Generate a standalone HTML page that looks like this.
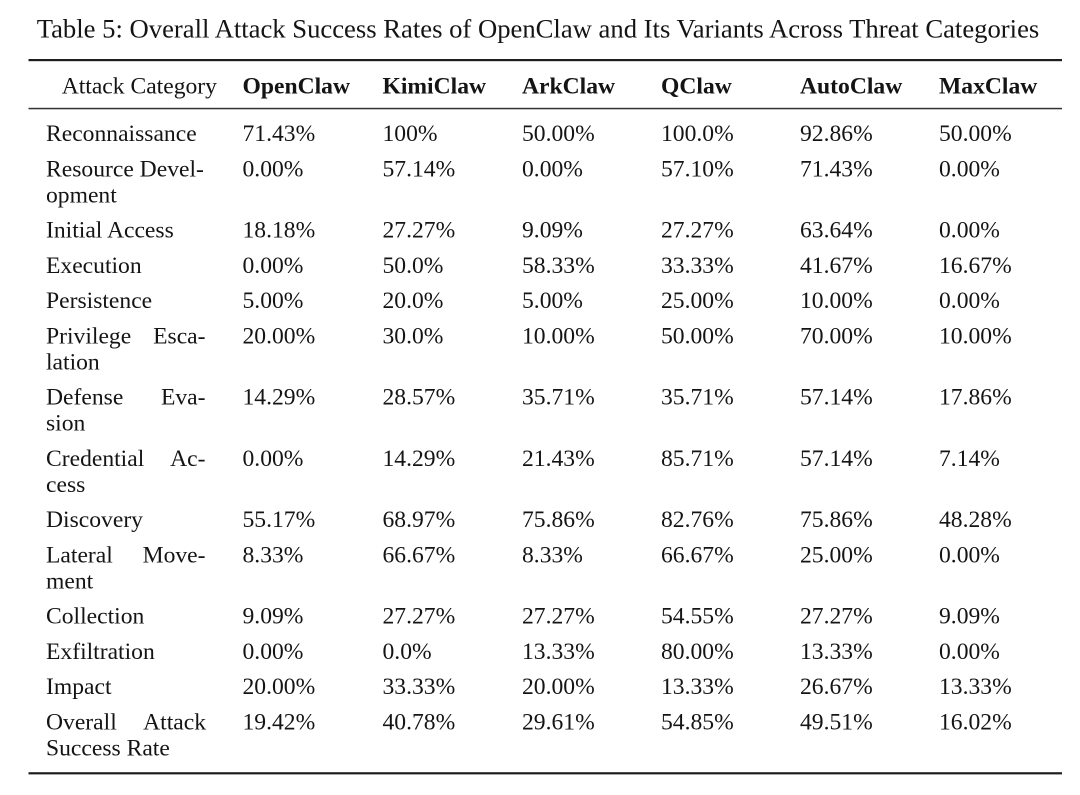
<!DOCTYPE html>
<html>
<head>
<meta charset="utf-8">
<style>
  html, body { margin: 0; padding: 0; background: #ffffff; }
  body { width: 1080px; height: 795px; overflow: hidden; }
  svg { display: block; }
  text { font-family: "Liberation Serif", "Times New Roman", serif; fill: #141414; }
  .t { font-size: 26.65px; }
  .c { font-size: 23.6px; }
  .h { font-size: 23.6px; font-weight: bold; }
</style>
</head>
<body>
<svg width="1080" height="795" viewBox="0 0 1080 795" xmlns="http://www.w3.org/2000/svg">
  <rect width="1080" height="795" fill="#ffffff"/>
  <text class="t" x="36.7" y="37.5">Table 5: Overall Attack Success Rates of OpenClaw and Its Variants Across Threat Categories</text>

  <!-- rules -->
  <rect x="28.5" y="59" width="1033.5" height="2.2" fill="#1e1e1e"/>
  <rect x="28.5" y="107.8" width="1033.5" height="1.5" fill="#333333"/>
  <rect x="28.5" y="772.2" width="1033.5" height="2.2" fill="#1e1e1e"/>

  <!-- header -->
  <text class="c" x="61.7" y="93.3">Attack Category</text>
  <text class="h" x="242.5" y="93.3">OpenClaw</text>
  <text class="h" x="382.5" y="93.3">KimiClaw</text>
  <text class="h" x="522" y="93.3">ArkClaw</text>
  <text class="h" x="661" y="93.3">QClaw</text>
  <text class="h" x="800" y="93.3">AutoClaw</text>
  <text class="h" x="939" y="93.3">MaxClaw</text>

  <!-- labels -->
  <g class="c">
    <text class="c" x="46" y="141.2">Reconnaissance</text>
    <text class="c" x="46" y="176.4">Resource Devel-</text>
    <text class="c" x="46" y="202.5">opment</text>
    <text class="c" x="46" y="237.7">Initial Access</text>
    <text class="c" x="46" y="272.9">Execution</text>
    <text class="c" x="46" y="308.1">Persistence</text>
    <text class="c" x="46" y="343.3">Privilege</text>
    <text class="c" x="205.5" y="343.3" text-anchor="end">Esca-</text>
    <text class="c" x="46" y="369.4">lation</text>
    <text class="c" x="46" y="404.6">Defense</text>
    <text class="c" x="205.5" y="404.6" text-anchor="end">Eva-</text>
    <text class="c" x="46" y="430.7">sion</text>
    <text class="c" x="46" y="465.9">Credential</text>
    <text class="c" x="205.5" y="465.9" text-anchor="end">Ac-</text>
    <text class="c" x="46" y="492">cess</text>
    <text class="c" x="46" y="527.2">Discovery</text>
    <text class="c" x="46" y="562.4">Lateral</text>
    <text class="c" x="205.5" y="562.4" text-anchor="end">Move-</text>
    <text class="c" x="46" y="588.5">ment</text>
    <text class="c" x="46" y="623.7">Collection</text>
    <text class="c" x="46" y="658.9">Exfiltration</text>
    <text class="c" x="46" y="694.1">Impact</text>
    <text class="c" x="46" y="729.3">Overall</text>
    <text class="c" x="206" y="729.3" text-anchor="end">Attack</text>
    <text class="c" x="46" y="755.4">Success Rate</text>
  </g>

  <!-- OpenClaw -->
  <text class="c" x="242.5" y="141.2">71.43%</text>
  <text class="c" x="242.5" y="176.4">0.00%</text>
  <text class="c" x="242.5" y="237.7">18.18%</text>
  <text class="c" x="242.5" y="272.9">0.00%</text>
  <text class="c" x="242.5" y="308.1">5.00%</text>
  <text class="c" x="242.5" y="343.3">20.00%</text>
  <text class="c" x="242.5" y="404.6">14.29%</text>
  <text class="c" x="242.5" y="465.9">0.00%</text>
  <text class="c" x="242.5" y="527.2">55.17%</text>
  <text class="c" x="242.5" y="562.4">8.33%</text>
  <text class="c" x="242.5" y="623.7">9.09%</text>
  <text class="c" x="242.5" y="658.9">0.00%</text>
  <text class="c" x="242.5" y="694.1">20.00%</text>
  <text class="c" x="242.5" y="729.3">19.42%</text>

  <!-- KimiClaw -->
  <text class="c" x="382.5" y="141.2">100%</text>
  <text class="c" x="382.5" y="176.4">57.14%</text>
  <text class="c" x="382.5" y="237.7">27.27%</text>
  <text class="c" x="382.5" y="272.9">50.0%</text>
  <text class="c" x="382.5" y="308.1">20.0%</text>
  <text class="c" x="382.5" y="343.3">30.0%</text>
  <text class="c" x="382.5" y="404.6">28.57%</text>
  <text class="c" x="382.5" y="465.9">14.29%</text>
  <text class="c" x="382.5" y="527.2">68.97%</text>
  <text class="c" x="382.5" y="562.4">66.67%</text>
  <text class="c" x="382.5" y="623.7">27.27%</text>
  <text class="c" x="382.5" y="658.9">0.0%</text>
  <text class="c" x="382.5" y="694.1">33.33%</text>
  <text class="c" x="382.5" y="729.3">40.78%</text>

  <!-- ArkClaw -->
  <text class="c" x="522" y="141.2">50.00%</text>
  <text class="c" x="522" y="176.4">0.00%</text>
  <text class="c" x="522" y="237.7">9.09%</text>
  <text class="c" x="522" y="272.9">58.33%</text>
  <text class="c" x="522" y="308.1">5.00%</text>
  <text class="c" x="522" y="343.3">10.00%</text>
  <text class="c" x="522" y="404.6">35.71%</text>
  <text class="c" x="522" y="465.9">21.43%</text>
  <text class="c" x="522" y="527.2">75.86%</text>
  <text class="c" x="522" y="562.4">8.33%</text>
  <text class="c" x="522" y="623.7">27.27%</text>
  <text class="c" x="522" y="658.9">13.33%</text>
  <text class="c" x="522" y="694.1">20.00%</text>
  <text class="c" x="522" y="729.3">29.61%</text>

  <!-- QClaw -->
  <text class="c" x="661" y="141.2">100.0%</text>
  <text class="c" x="661" y="176.4">57.10%</text>
  <text class="c" x="661" y="237.7">27.27%</text>
  <text class="c" x="661" y="272.9">33.33%</text>
  <text class="c" x="661" y="308.1">25.00%</text>
  <text class="c" x="661" y="343.3">50.00%</text>
  <text class="c" x="661" y="404.6">35.71%</text>
  <text class="c" x="661" y="465.9">85.71%</text>
  <text class="c" x="661" y="527.2">82.76%</text>
  <text class="c" x="661" y="562.4">66.67%</text>
  <text class="c" x="661" y="623.7">54.55%</text>
  <text class="c" x="661" y="658.9">80.00%</text>
  <text class="c" x="661" y="694.1">13.33%</text>
  <text class="c" x="661" y="729.3">54.85%</text>

  <!-- AutoClaw -->
  <text class="c" x="800" y="141.2">92.86%</text>
  <text class="c" x="800" y="176.4">71.43%</text>
  <text class="c" x="800" y="237.7">63.64%</text>
  <text class="c" x="800" y="272.9">41.67%</text>
  <text class="c" x="800" y="308.1">10.00%</text>
  <text class="c" x="800" y="343.3">70.00%</text>
  <text class="c" x="800" y="404.6">57.14%</text>
  <text class="c" x="800" y="465.9">57.14%</text>
  <text class="c" x="800" y="527.2">75.86%</text>
  <text class="c" x="800" y="562.4">25.00%</text>
  <text class="c" x="800" y="623.7">27.27%</text>
  <text class="c" x="800" y="658.9">13.33%</text>
  <text class="c" x="800" y="694.1">26.67%</text>
  <text class="c" x="800" y="729.3">49.51%</text>

  <!-- MaxClaw -->
  <text class="c" x="939" y="141.2">50.00%</text>
  <text class="c" x="939" y="176.4">0.00%</text>
  <text class="c" x="939" y="237.7">0.00%</text>
  <text class="c" x="939" y="272.9">16.67%</text>
  <text class="c" x="939" y="308.1">0.00%</text>
  <text class="c" x="939" y="343.3">10.00%</text>
  <text class="c" x="939" y="404.6">17.86%</text>
  <text class="c" x="939" y="465.9">7.14%</text>
  <text class="c" x="939" y="527.2">48.28%</text>
  <text class="c" x="939" y="562.4">0.00%</text>
  <text class="c" x="939" y="623.7">9.09%</text>
  <text class="c" x="939" y="658.9">0.00%</text>
  <text class="c" x="939" y="694.1">13.33%</text>
  <text class="c" x="939" y="729.3">16.02%</text>
</svg>
</body>
</html>
